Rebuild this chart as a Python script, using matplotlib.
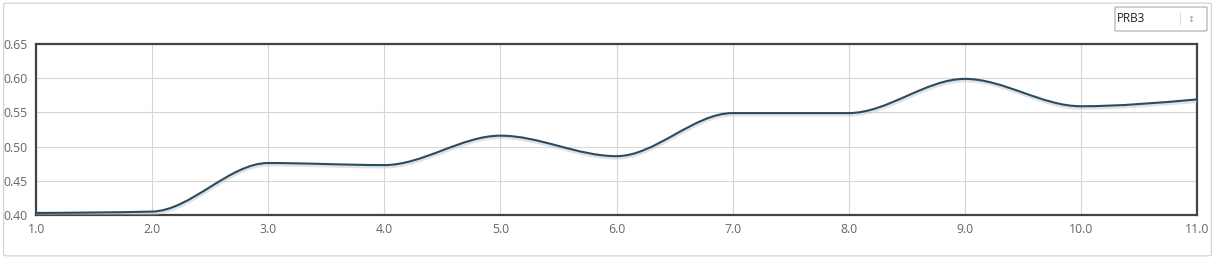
import numpy as np
import matplotlib
matplotlib.use('Agg')
import matplotlib.pyplot as plt
import matplotlib.patheffects as pe
from matplotlib.path import Path
from matplotlib.patches import PathPatch, FancyBboxPatch

# data
x_vals = [1.0, 2.0, 3.0, 4.0, 5.0, 6.0, 7.0, 8.0, 9.0, 10.0, 11.0]
y_vals = [0.403, 0.405, 0.476, 0.473, 0.516, 0.486, 0.549, 0.549, 0.599, 0.559, 0.569]
x_ticks = [1.0, 2.0, 3.0, 4.0, 5.0, 6.0, 7.0, 8.0, 9.0, 10.0, 11.0]
y_ticks = [0.40, 0.45, 0.50, 0.55, 0.60, 0.65]
selected = 'PRB3'

plt.rcParams['font.family'] = ['Open Sans', 'DejaVu Sans']


def monotone_path(xs, ys):
    # bezier segments like d3.curveMonotoneX
    xs = np.asarray(xs, float)
    ys = np.asarray(ys, float)
    n = len(xs)
    h = np.diff(xs)
    s = np.diff(ys) / h
    t = np.zeros(n)
    for i in range(1, n - 1):
        p = (s[i - 1] * h[i] + s[i] * h[i - 1]) / (h[i - 1] + h[i])
        t[i] = (np.sign(s[i - 1]) + np.sign(s[i])) * min(abs(s[i - 1]), abs(s[i]), 0.5 * abs(p))
    t[0] = (3 * s[0] - t[1]) / 2
    t[-1] = (3 * s[-1] - t[-2]) / 2
    verts = [(xs[0], ys[0])]
    codes = [Path.MOVETO]
    for i in range(n - 1):
        dx = h[i] / 3
        verts += [(xs[i] + dx, ys[i] + dx * t[i]),
                  (xs[i + 1] - dx, ys[i + 1] - dx * t[i + 1]),
                  (xs[i + 1], ys[i + 1])]
        codes += [Path.CURVE4] * 3
    return Path(verts, codes)


fig = plt.figure(figsize=(12.15, 2.59), dpi=100)

# outer panel border
fig.patches.append(FancyBboxPatch((0.003, 0.012), 0.994, 0.976,
                                  boxstyle='round,pad=0,rounding_size=0.004',
                                  transform=fig.transFigure, facecolor='white',
                                  edgecolor='#d0d0d0', linewidth=0.8, zorder=-10))

# dropdown box
fig.patches.append(FancyBboxPatch((1115 / 1215, 1 - 31 / 259), 92 / 1215, 24 / 259,
                                  boxstyle='round,pad=0,rounding_size=0.002',
                                  transform=fig.transFigure, facecolor='white',
                                  edgecolor='#a9a9a9', linewidth=0.8))
fig.text(1117 / 1215, 1 - 19 / 259, selected, fontsize=8.5, color='#222222', va='center', ha='left')
fig.lines.append(plt.Line2D([1180 / 1215, 1180 / 1215], [1 - 25 / 259, 1 - 13 / 259],
                            transform=fig.transFigure, color='#dddddd', linewidth=0.8))
fig.text(1191 / 1215, 1 - 19 / 259, '\u2195', fontsize=6, color='#999999', va='center', ha='center',
         family=['DejaVu Sans'])

ax = fig.add_axes([36 / 1215, 44 / 259, 1161 / 1215, 171 / 259])
ax.set_facecolor('none')
ax.set_xlim(1, 11)
ax.set_ylim(0.40, 0.65)
ax.set_xticks(x_ticks)
ax.set_xticklabels([f'{v:.1f}' for v in x_ticks])
ax.set_yticks(y_ticks)
ax.set_yticklabels([f'{v:.2f}' for v in y_ticks])
ax.grid(True, color='#d6d6d6', linewidth=0.8)
ax.set_axisbelow(True)
for sp in ax.spines.values():
    sp.set_color('#444444')
    sp.set_linewidth(1.6)
ax.tick_params(length=0, labelsize=8.8, labelcolor='#666666', pad=6)

curve = PathPatch(monotone_path(x_vals, y_vals), facecolor='none', edgecolor='#2b4c60',
                  linewidth=1.5, zorder=3, clip_on=True,
                  path_effects=[pe.SimpleLineShadow(offset=(0.3, -1.2), shadow_color='#b8c2c8', alpha=0.45,
                                                    linewidth=2.6),
                                pe.Normal()])
ax.add_patch(curve)

fig.savefig('out.png', dpi=100)
